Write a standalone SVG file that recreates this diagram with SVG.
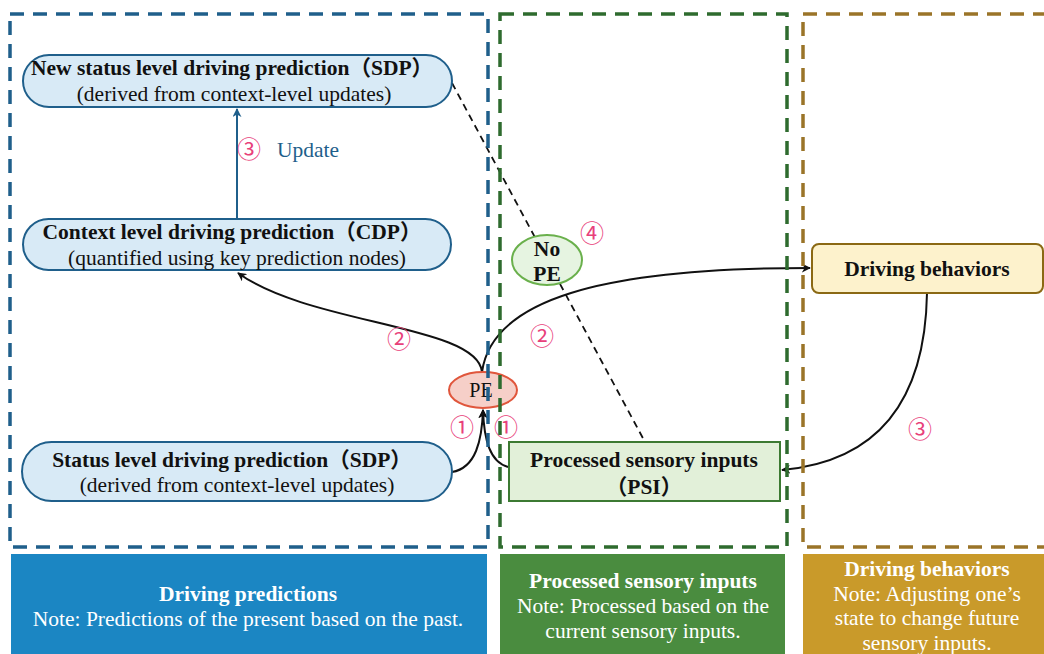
<svg xmlns="http://www.w3.org/2000/svg" width="1044" height="654" viewBox="0 0 1044 654">
<defs>
<style>
.t{font-family:"Liberation Serif","Noto Sans CJK SC",serif;fill:#111;text-anchor:middle;font-size:21.5px}
.b{font-weight:bold}
.w{fill:#fff}
.num{font-family:"Noto Sans CJK SC","DejaVu Sans",sans-serif;fill:#e8407a;font-size:24px;text-anchor:middle}
.pill{fill:#d8eaf6;stroke:#1f5f8b;stroke-width:2}
.c{fill:none;stroke:#111;stroke-width:2}
.reg{fill:none;stroke-width:3.5;stroke-dasharray:14,9}
</style>
<marker id="ah" viewBox="0 0 10 10" refX="9" refY="5" markerWidth="9" markerHeight="9" orient="auto" markerUnits="userSpaceOnUse"><path d="M0,0 L10,5 L0,10 L3,5 Z" fill="#111"/></marker>
<marker id="ahb" viewBox="0 0 10 10" refX="9" refY="5" markerWidth="9" markerHeight="9" orient="auto" markerUnits="userSpaceOnUse"><path d="M0,0 L10,5 L0,10 L3,5 Z" fill="#1f5f8b"/></marker>
</defs>
<rect width="1044" height="654" fill="#fff"/>
<g id="panel-predictions">
<rect x="11" y="554" width="476" height="100" fill="#1b86c3"/>
<text class="t b w" x="248" y="601">Driving predictions</text>
<text class="t w" x="248" y="626">Note: Predictions of the present based on the past.</text>
</g>
<g id="panel-psi">
<rect x="500" y="554" width="285" height="100" fill="#4a8c3f"/>
<text class="t b w" x="643" y="588">Processed sensory inputs</text>
<text class="t w" x="643" y="613">Note: Processed based on the</text>
<text class="t w" x="643" y="638">current sensory inputs.</text>
</g>
<g id="panel-behaviors">
<rect x="803" y="554" width="241" height="100" fill="#c99a2a"/>
<text class="t b w" x="927" y="576">Driving behaviors</text>
<text class="t w" x="927" y="601">Note: Adjusting one’s</text>
<text class="t w" x="927" y="625">state to change future</text>
<text class="t w" x="927" y="650">sensory inputs.</text>
</g>
<g id="connectors">
<line x1="452" y1="83" x2="645" y2="442" stroke="#111" stroke-width="1.8" stroke-dasharray="7,5"/>
<line x1="237" y1="219" x2="237" y2="109" stroke="#1f5f8b" stroke-width="2" marker-end="url(#ahb)"/>
<path class="c" d="M482,372 C478,325 310,325 238,273" marker-end="url(#ah)"/>
<path class="c" d="M482,372 C492,300 600,268 810,268" marker-end="url(#ah)"/>
<path class="c" d="M452,472 C476,468 482,440 483,410" marker-end="url(#ah)"/>
<path class="c" d="M508,467 C490,462 484,440 483,410" marker-end="url(#ah)"/>
<path class="c" d="M927,293 C925,410 870,462 782,470" marker-end="url(#ah)"/>
<text class="num" x="249" y="158">③</text>
<text x="277" y="157" font-family="Liberation Serif,serif" font-size="21.5" fill="#1f5f8b">Update</text>
<text class="num" x="399" y="348">②</text>
<text class="num" x="542" y="345">②</text>
<text class="num" x="462" y="436">①</text>
<text class="num" x="506" y="436">①</text>
<text class="num" x="920" y="438">③</text>
<text class="num" x="592" y="242">④</text>
</g>
<g id="node-new-sdp">
<rect class="pill" x="23" y="55" width="429" height="52" rx="26"/>
<text class="t b" x="232" y="75">New status level driving prediction（SDP）</text>
<text class="t" x="234" y="101">(derived from context-level updates)</text>
</g>
<g id="node-cdp">
<rect class="pill" x="23" y="219" width="428" height="51" rx="25.5"/>
<text class="t b" x="232" y="239">Context level driving prediction（CDP）</text>
<text class="t" x="237" y="265">(quantified using key prediction nodes)</text>
</g>
<g id="node-sdp">
<rect class="pill" x="22" y="442" width="430" height="59" rx="29.5"/>
<text class="t b" x="232" y="467">Status level driving prediction（SDP）</text>
<text class="t" x="237" y="492">(derived from context-level updates)</text>
</g>
<g id="node-pe">
<ellipse cx="483" cy="390" rx="34" ry="18" fill="#f6cfc8" stroke="#e0563c" stroke-width="2"/>
<text class="t" x="481" y="397" style="font-size:20px">PE</text>
</g>
<g id="node-nope">
<ellipse cx="547" cy="260" rx="35" ry="25" fill="#e6f4e1" stroke="#6ab04c" stroke-width="2"/>
<text class="t b" x="547" y="256">No</text>
<text class="t b" x="547" y="281">PE</text>
</g>
<g id="node-psi">
<rect x="509" y="442" width="271" height="59" fill="#e2f0d9" stroke="#3c7a32" stroke-width="2"/>
<text class="t b" x="644" y="467">Processed sensory inputs</text>
<text class="t b" x="644" y="494">（PSI）</text>
</g>
<g id="node-behaviors">
<rect x="812" y="244" width="231" height="49" rx="7" fill="#fdf2cc" stroke="#8b6914" stroke-width="2"/>
<text class="t b" x="927" y="276">Driving behaviors</text>
</g>
<g id="regions">
<rect class="reg" x="10" y="14" width="478" height="533" stroke="#1f5f8b"/>
<rect class="reg" x="500" y="14" width="287" height="533" stroke="#2e6b2e"/>
<rect class="reg" x="803" y="14" width="260" height="533" stroke="#9a7428"/>
</g>
</svg>
